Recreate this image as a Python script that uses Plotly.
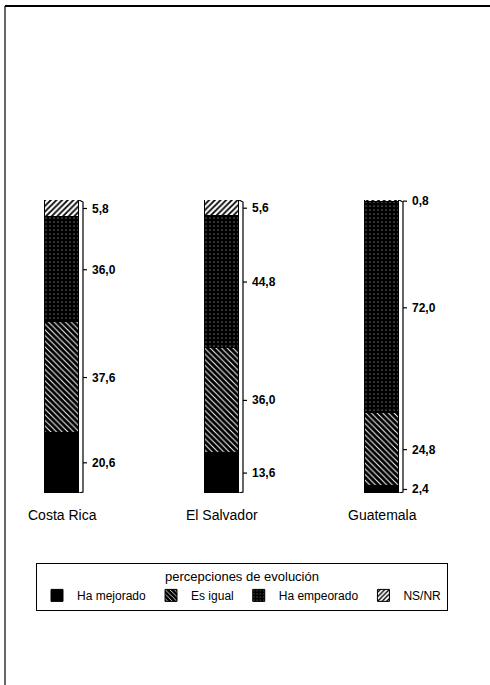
import plotly.graph_objects as go

# Perception of change, percent of respondents per country
paises = ["Costa Rica", "El Salvador", "Guatemala"]
ha_mejorado = [20.6, 13.6, 2.4]
es_igual = [37.6, 36.0, 24.8]
ha_empeorado = [36.0, 44.8, 72.0]
ns_nr = [5.8, 5.6, 0.8]

series_names = ["Ha mejorado", "Es igual", "Ha empeorado", "NS/NR"]
series_vals = [ha_mejorado, es_igual, ha_empeorado, ns_nr]

W, H = 490, 685
PLOT_TOP, PLOT_BOT = 200, 493          # pixel rows of 100 % and 0 %
PX_PER_UNIT_X = 160                     # spacing between bar centres
FIRST_CENTRE = 62
FONT = "Liberation Sans, Arial, sans-serif"

x_pos = list(range(len(paises)))
bar_w = 34 / PX_PER_UNIT_X
px = 1 / PX_PER_UNIT_X                  # one pixel in x data units


def paper_y(row):
    return (PLOT_BOT - row) / (PLOT_BOT - PLOT_TOP)


def paper_x(col):
    return col / W


styles = {
    "Ha mejorado": dict(color="#000000"),
    "Es igual": dict(color="#000000",
                     pattern=dict(shape="\\", bgcolor="#000000", fgcolor="#ffffff",
                                  size=4, solidity=0.25, fillmode="replace")),
    "Ha empeorado": dict(color="#000000",
                         pattern=dict(shape=".", bgcolor="#000000", fgcolor="#ffffff",
                                      size=4, solidity=0.05, fillmode="replace")),
    "NS/NR": dict(color="#ffffff",
                  pattern=dict(shape="/", bgcolor="#ffffff", fgcolor="#000000",
                               size=4, solidity=0.45, fillmode="replace")),
}

fig = go.Figure()
for name, vals in zip(series_names, series_vals):
    st = styles[name]
    marker = dict(color=st["color"], line=dict(color="#000000", width=1))
    if "pattern" in st:
        marker["pattern"] = st["pattern"]
    fig.add_trace(go.Bar(
        x=x_pos, y=vals, name=name, width=bar_w, marker=marker,
        hoverinfo="skip",
    ))

# right-hand side face and value ticks for every column
annotations = []
for i, pais in enumerate(paises):
    side_x = i + bar_w / 2 + 4 * px
    tick_x = side_x + 4 * px
    fig.add_trace(go.Scatter(
        x=[i + bar_w / 2, side_x, side_x, i + bar_w / 2],
        y=[100, 99.3, 0.3, 0], mode="lines",
        line=dict(color="#000000", width=1.2), showlegend=False, hoverinfo="skip",
    ))
    base = 0.0
    for vals in series_vals:
        v = vals[i]
        mid = base + v / 2
        fig.add_trace(go.Scatter(
            x=[side_x, tick_x], y=[mid, mid], mode="lines",
            line=dict(color="#000000", width=1.2), showlegend=False, hoverinfo="skip",
        ))
        annotations.append(dict(
            x=tick_x + 3 * px, y=mid, xref="x", yref="y",
            text="<b>" + f"{v:.1f}".replace(".", ",") + "</b>",
            showarrow=False, xanchor="left", yanchor="middle",
            font=dict(family=FONT, size=12, color="#000000"),
        ))
        base += v
    annotations.append(dict(
        x=i, y=0, xref="x", yref="y", text=pais, showarrow=False,
        xanchor="center", yanchor="top", yshift=-12,
        font=dict(family=FONT, size=14, color="#000000"),
    ))

# page frame: top rule and left rule
shapes = [
    dict(type="line", xref="paper", yref="paper",
         x0=paper_x(5), x1=paper_x(W), y0=paper_y(6), y1=paper_y(6),
         line=dict(color="#000000", width=2)),
    dict(type="line", xref="paper", yref="paper",
         x0=paper_x(5), x1=paper_x(5), y0=paper_y(6), y1=paper_y(H),
         line=dict(color="#000000", width=1.2)),
]

fig.update_layout(
    width=W, height=H,
    margin=dict(l=0, r=0, t=PLOT_TOP, b=H - PLOT_BOT),
    paper_bgcolor="#ffffff", plot_bgcolor="#ffffff",
    barmode="stack", bargap=0,
    xaxis=dict(range=[-FIRST_CENTRE / PX_PER_UNIT_X, (W - FIRST_CENTRE) / PX_PER_UNIT_X],
               visible=False, fixedrange=True),
    yaxis=dict(range=[0, 100], visible=False, fixedrange=True),
    showlegend=True,
    legend=dict(
        orientation="h", x=paper_x(36), y=paper_y(563), xanchor="left", yanchor="top",
        bordercolor="#000000", borderwidth=1, bgcolor="#ffffff",
        title=dict(text="percepciones de evolución", side="top center",
                   font=dict(family=FONT, size=13, color="#000000")),
        font=dict(family=FONT, size=12, color="#000000"),
        itemwidth=30, tracegroupgap=0, traceorder="normal",
    ),
    annotations=annotations,
    shapes=shapes,
)

fig.write_html("out.html")
